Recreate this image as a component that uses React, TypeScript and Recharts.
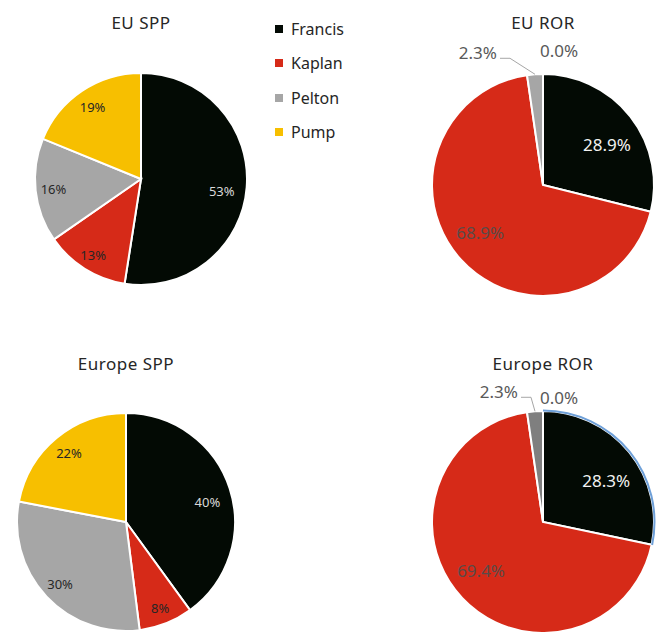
import React from "react";
import { Cell, Pie, PieChart } from "recharts";

const categories = ["Francis", "Kaplan", "Pelton", "Pump"];
const euSpp = [53, 13, 16, 19];
const euRor = [28.9, 68.9, 2.3, 0.0];
const europeSpp = [40, 8, 30, 22];
const europeRor = [28.3, 69.4, 2.3, 0.0];
const chartTitles = ["EU SPP", "EU ROR", "Europe SPP", "Europe ROR"];

const sliceColors = ["#030a04", "#d62a18", "#a6a6a6", "#f7bf00"];
const darkPelton = "#7f7f7f";
const RAD = Math.PI / 180;
const FONT = "'Noto Sans', 'Open Sans', sans-serif";

const toRows = (vals: number[]) => categories.map((name, i) => ({ name, value: vals[i] }));

// label spots: [radius ratio, angle nudge in degrees clockwise]
const sppSpots = [[0.77, 4], [0.85, 0], [0.83, 0], [0.82, 0]];
const rorSpots = [[0.68, 6], [0.71, 5]];

const charts = [
  { title: chartTitles[0], values: euSpp, cx: 141, cy: 179, r: 106, ror: false, elbow: [0, 0], zeroDy: 0, colors: sliceColors },
  { title: chartTitles[1], values: euRor, cx: 543, cy: 185, r: 111, ror: true, elbow: [-25, -16], zeroDy: -24, colors: sliceColors },
  { title: chartTitles[2], values: europeSpp, cx: 126, cy: 522, r: 109, ror: false, elbow: [0, 0], zeroDy: 0, colors: sliceColors },
  { title: chartTitles[3], values: europeRor, cx: 543, cy: 522, r: 111, ror: true, elbow: [-4, -14], zeroDy: -14, colors: [sliceColors[0], sliceColors[1], darkPelton, sliceColors[3]] },
];

const titleTops = [11, 11, 352, 352];

function makeLabel(cfg: (typeof charts)[number]) {
  return (p: any) => {
    const { cx, cy, midAngle, outerRadius, index, value } = p;
    const text = cfg.ror ? `${Number(value).toFixed(1)}%` : `${value}%`;
    const at = (r: number, ang: number) => ({
      x: cx + r * Math.cos(-ang * RAD),
      y: cy + r * Math.sin(-ang * RAD),
    });
    if (cfg.ror && index >= 2) {
      const edge = at(outerRadius, midAngle);
      if (index === 3) {
        return (
          <text x={edge.x - 3} y={edge.y + cfg.zeroDy} textAnchor="start" dominantBaseline="central"
            fill="#595959" fontSize={17} fontFamily={FONT}>{text}</text>
        );
      }
      const ex = edge.x + cfg.elbow[0];
      const ey = edge.y + cfg.elbow[1];
      return (
        <g>
          <polyline points={`${ex - 10},${ey} ${ex},${ey} ${edge.x},${edge.y}`} fill="none" stroke="#a6a6a6" strokeWidth={1} />
          <text x={ex - 13} y={ey - 6} textAnchor="end" dominantBaseline="central"
            fill="#595959" fontSize={17} fontFamily={FONT}>{text}</text>
        </g>
      );
    }
    const spot = (cfg.ror ? rorSpots : sppSpots)[index];
    const pt = at(outerRadius * spot[0], midAngle - spot[1]);
    const onBlack = index === 0;
    return (
      <text x={pt.x} y={pt.y} textAnchor="middle" dominantBaseline="central"
        fill={onBlack ? (cfg.ror ? "#f2f2f2" : "#d9d9d9") : cfg.ror ? "#5a4a48" : "#262626"}
        fontSize={cfg.ror ? 17 : 13} fontFamily={FONT}>{text}</text>
    );
  };
}

export default function App() {
  return (
    <div style={{ position: "absolute", left: 0, top: 0, width: 661, height: 632, background: "#fff", fontFamily: FONT }}>
      <PieChart width={661} height={632} margin={{ top: 0, right: 0, bottom: 0, left: 0 }}>
        {charts.map((c) => (
          <Pie
            key={c.title}
            data={toRows(c.values)}
            dataKey="value"
            nameKey="name"
            cx={c.cx}
            cy={c.cy}
            outerRadius={c.r}
            startAngle={90}
            endAngle={-270}
            stroke="#ffffff"
            strokeWidth={2}
            label={makeLabel(c)}
            labelLine={false}
            isAnimationActive={false}
          >
            {categories.map((_, i) => (
              <Cell key={i} fill={c.colors[i]} />
            ))}
          </Pie>
        ))}
        <Pie
          data={toRows(europeRor)}
          dataKey="value"
          cx={charts[3].cx}
          cy={charts[3].cy}
          innerRadius={charts[3].r - 0.5}
          outerRadius={charts[3].r + 1.5}
          startAngle={90}
          endAngle={-270}
          stroke="none"
          isAnimationActive={false}
        >
          {categories.map((_, i) => (
            <Cell key={i} fill={i === 0 ? "#6fa0d8" : "transparent"} />
          ))}
        </Pie>
      </PieChart>
      {charts.map((c, i) => (
        <div key={c.title} style={{
          position: "absolute", left: c.cx - 100, width: 200, top: titleTops[i], textAlign: "center",
          fontSize: 17, letterSpacing: 0.5, color: "#262626",
        }}>{c.title}</div>
      ))}
      <div style={{ position: "absolute", left: 275, top: 12 }}>
        {categories.map((name, i) => (
          <div key={name} style={{ display: "flex", alignItems: "center", height: 34.3 }}>
            <span style={{ width: 8, height: 8, background: sliceColors[i], marginRight: 8, display: "inline-block" }} />
            <span style={{ fontSize: 16, color: "#262626", lineHeight: "24px" }}>{name}</span>
          </div>
        ))}
      </div>
    </div>
  );
}
